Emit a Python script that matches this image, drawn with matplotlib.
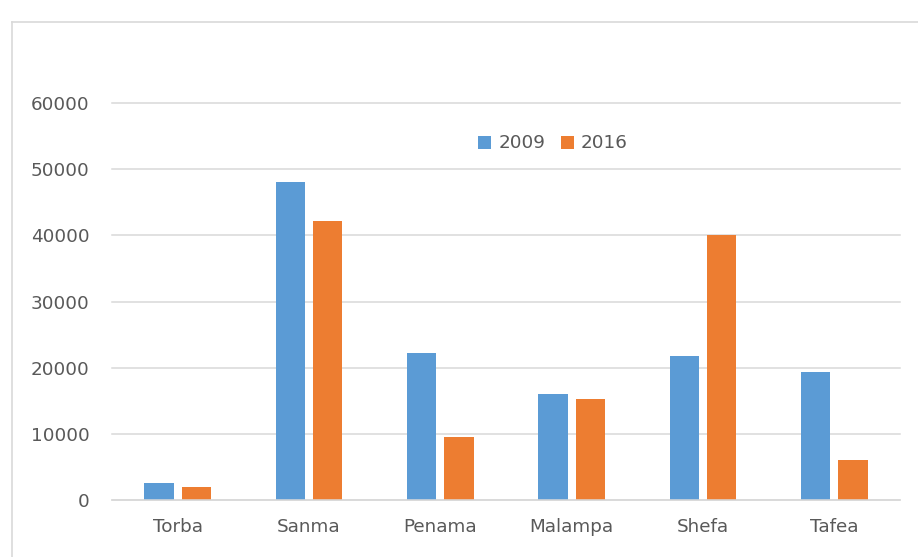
import matplotlib
matplotlib.use("Agg")
import matplotlib.pyplot as plt
import numpy as np
from matplotlib.lines import Line2D

categories = ["Torba", "Sanma", "Penama", "Malampa", "Shefa", "Tafea"]
values_2009 = [2660, 48100, 22250, 16000, 21800, 19330]
values_2016 = [2000, 42200, 9560, 15250, 40120, 6090]
series_labels = ["2009", "2016"]
yticks = [0, 10000, 20000, 30000, 40000, 50000, 60000]

W, H = 918, 557
fig = plt.figure(figsize=(W / 100, H / 100), dpi=100)
fig.patch.set_facecolor("white")

ax = fig.add_axes([112 / W, 1 - 500.3 / H, (900 - 112) / W, (500.3 - 103) / H])

text_color = "#595959"
grid_color = "#d9d9d9"
fs = 13.2

x = np.arange(len(categories))
bw = 0.223
off = 0.142
ax.bar(x - off, values_2009, width=bw, color="#5B9BD5", label=series_labels[0], zorder=3)
ax.bar(x + off, values_2016, width=bw, color="#ED7D31", label=series_labels[1], zorder=3)

ax.set_xlim(-0.5, len(categories) - 0.5)
ax.set_ylim(0, 60000)
ax.set_yticks(yticks)
ax.set_yticklabels([str(v) for v in yticks])
ax.set_xticks(x)
ax.set_xticklabels(categories)

ax.grid(axis="y", color=grid_color, linewidth=1.1, zorder=0)
for gl in ax.get_ygridlines():
    gl.set_clip_on(False)
ax.set_axisbelow(True)
for s in ["top", "right", "left"]:
    ax.spines[s].set_visible(False)
ax.spines["bottom"].set_color(grid_color)
ax.spines["bottom"].set_linewidth(1.1)
ax.spines["bottom"].set_zorder(4)

ax.tick_params(axis="both", length=0, labelsize=fs, colors=text_color)
ax.tick_params(axis="y", pad=16)
ax.tick_params(axis="x", pad=12.5)

leg = ax.legend(loc="center", bbox_to_anchor=(553 / W, 1 - 143.5 / H),
                bbox_transform=fig.transFigure, ncol=2, frameon=False,
                fontsize=fs, handlelength=0.72, handleheight=0.72,
                handletextpad=0.38, columnspacing=0.85, borderpad=0)
for t in leg.get_texts():
    t.set_color(text_color)

# outer chart frame (partially visible)
fig.add_artist(Line2D([12 / W, 12 / W], [0, 1 - 22 / H], transform=fig.transFigure,
                      color=grid_color, linewidth=1.2))
fig.add_artist(Line2D([12 / W, 1], [1 - 22 / H, 1 - 22 / H], transform=fig.transFigure,
                      color=grid_color, linewidth=1.2))

fig.savefig("out.png", dpi=100, facecolor="white")
